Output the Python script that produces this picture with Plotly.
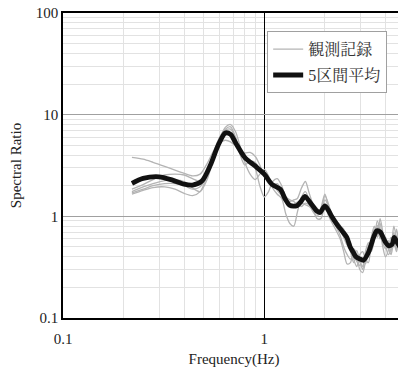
import plotly.graph_objects as go

# Frequency grid for observed records (Hz)
freq_obs = [0.22, 0.25, 0.28, 0.32, 0.36, 0.40, 0.44, 0.48, 0.52, 0.56, 0.60, 0.64, 0.68, 0.72, 0.76,
            0.80, 0.85, 0.90, 0.95, 1.00, 1.05, 1.10, 1.16, 1.22, 1.28, 1.34, 1.40, 1.46, 1.53, 1.60,
            1.67, 1.75, 1.83, 1.91, 2.00, 2.09, 2.18, 2.28, 2.38, 2.48, 2.58, 2.68, 2.78, 2.88, 2.98,
            3.08, 3.18, 3.29, 3.40, 3.52, 3.64, 3.76, 3.88, 4.00, 4.13, 4.26, 4.40, 4.54, 4.68, 4.83, 5.0]

obs1 = [3.8, 3.65, 3.4, 3.1, 2.85, 2.65, 2.5, 2.6, 3.3, 4.4, 5.3, 5.6, 5.4, 4.9, 4.4,
        4.2, 4.25, 3.9, 3.2, 2.5, 2.1, 2.0, 2.1, 1.8, 1.45, 1.25, 1.3, 1.38, 1.35, 1.3,
        1.25, 1.15, 1.05, 1.15, 1.6, 1.3, 0.95, 0.82, 0.75, 0.62, 0.52, 0.48, 0.45, 0.36, 0.33,
        0.38, 0.34, 0.45, 0.62, 0.8, 0.62, 0.75, 0.55, 0.48, 0.58, 0.45, 0.7, 0.48, 0.55, 0.4, 0.45]
obs2 = [1.65, 1.8, 1.92, 1.95, 1.85, 1.68, 1.6, 1.75, 2.5, 4.0, 5.8, 7.5, 8.0, 6.8, 4.8,
        3.4, 2.6, 2.3, 2.6, 2.9, 2.5, 1.9, 1.65, 1.5, 1.05, 0.85, 0.8, 1.1, 1.55, 1.75,
        1.45, 1.15, 0.95, 0.95, 1.25, 1.0, 0.85, 0.72, 0.6, 0.45, 0.34, 0.35, 0.48, 0.42, 0.30,
        0.28, 0.36, 0.52, 0.45, 0.58, 0.9, 0.72, 0.5, 0.4, 0.46, 0.62, 0.55, 0.75, 0.5, 0.38, 0.52]
obs3 = [1.75, 1.95, 2.1, 2.25, 2.3, 2.2, 1.9, 1.75, 2.3, 3.8, 5.6, 7.0, 7.2, 5.8, 4.4,
        3.9, 3.6, 3.0, 2.0, 1.55, 1.75, 2.2, 2.35, 2.0, 1.55, 1.45, 1.4, 1.3, 1.25, 1.35,
        1.3, 1.1, 1.0, 1.2, 1.65, 1.2, 1.0, 0.9, 0.82, 0.72, 0.62, 0.55, 0.38, 0.32, 0.42,
        0.45, 0.38, 0.35, 0.55, 0.75, 0.65, 0.95, 0.7, 0.52, 0.42, 0.48, 0.8, 0.6, 0.45, 0.6, 0.4]
obs4 = [1.85, 2.05, 2.3, 2.55, 2.6, 2.55, 2.35, 2.2, 2.8, 4.3, 6.0, 7.2, 7.6, 6.0, 4.0,
        3.2, 3.5, 3.4, 2.9, 2.7, 2.4, 2.1, 1.8, 1.6, 1.5, 1.35, 1.3, 1.35, 1.45, 1.5,
        1.4, 1.3, 1.2, 1.1, 1.45, 1.25, 1.0, 0.88, 0.8, 0.75, 0.6, 0.45, 0.35, 0.42, 0.36,
        0.32, 0.42, 0.4, 0.5, 0.68, 0.82, 0.6, 0.65, 0.55, 0.48, 0.55, 0.5, 0.65, 0.58, 0.52, 0.35]
obs5 = [1.7, 1.85, 2.0, 2.1, 2.1, 2.0, 1.85, 1.95, 2.6, 3.9, 5.4, 6.3, 6.4, 5.6, 4.6,
        4.0, 3.5, 3.1, 2.8, 2.7, 2.3, 2.0, 1.85, 1.7, 1.5, 1.4, 1.45, 1.5, 1.9, 2.2,
        1.7, 1.3, 1.15, 1.05, 1.3, 1.05, 0.92, 0.78, 0.65, 0.5, 0.42, 0.38, 0.42, 0.46, 0.36,
        0.3, 0.45, 0.55, 0.48, 0.62, 0.75, 0.85, 0.58, 0.62, 0.5, 0.42, 0.55, 0.45, 0.62, 0.5, 0.55]
obs_series = [obs1, obs2, obs3, obs4, obs5]

# 5-section average
freq_avg = [0.22, 0.25, 0.30, 0.35, 0.40, 0.44, 0.49, 0.54, 0.59, 0.64, 0.68, 0.72, 0.80, 0.90, 1.00,
            1.09, 1.20, 1.27, 1.34, 1.45, 1.53, 1.59, 1.69, 1.82, 1.89, 2.0, 2.08, 2.16, 2.29, 2.43,
            2.57, 2.67, 2.77, 2.85, 2.99, 3.11, 3.29, 3.49, 3.62, 3.77, 3.99, 4.14, 4.31, 4.42, 4.56,
            4.73, 5.0]
avg = [2.11, 2.36, 2.45, 2.27, 2.07, 2.03, 2.23, 3.2, 5.0, 6.6, 6.4, 5.3, 3.79, 3.13, 2.6,
       2.07, 1.85, 1.48, 1.28, 1.27, 1.42, 1.57, 1.37, 1.13, 1.09, 1.27, 1.15, 1.0, 0.84, 0.72,
       0.62, 0.50, 0.44, 0.40, 0.38, 0.37, 0.44, 0.62, 0.72, 0.70, 0.56, 0.515, 0.53, 0.62, 0.56,
       0.50, 0.48]

name_obs = "観測記録"
name_avg = "5区間平均"

x_tickvals = [0.1, 1, 5]
x_ticktext = ["0.1", "1", "5"]
y_tickvals = [0.1, 1, 10, 100]
y_ticktext = ["0.1", "1", "10", "100"]

serif = "Liberation Serif, Times New Roman, serif"
legend_font = "Liberation Serif, Noto Serif CJK JP, Noto Sans CJK JP, serif"

fig = go.Figure()
for i, s in enumerate(obs_series):
    fig.add_trace(go.Scatter(
        x=freq_obs, y=s, mode="lines", name=name_obs,
        line=dict(color="#b4b4b4", width=1.3, shape="spline", smoothing=0.8),
        showlegend=(i == 0), legendgroup="obs", hoverinfo="skip"))
fig.add_trace(go.Scatter(
    x=freq_avg, y=avg, mode="lines", name=name_avg,
    line=dict(color="#111111", width=4.8, shape="spline", smoothing=0.8)))

# page body has an 8px default margin; plot area lands at x 63..405, y 13..318 in the window
fig.update_layout(
    width=406, height=372,
    margin=dict(l=55, r=9, t=5, b=62, autoexpand=False),
    paper_bgcolor="white", plot_bgcolor="white",
    font=dict(family=serif, size=15, color="#222"),
    showlegend=True,
    legend=dict(x=0.597, y=0.94, xanchor="left", yanchor="top",
                bgcolor="white", bordercolor="#a0a0a0", borderwidth=1,
                font=dict(family=legend_font, size=16, color="#333"),
                tracegroupgap=2, itemwidth=30),
    xaxis=dict(type="log", range=[-1, 0.69897], automargin=False,
               tickvals=x_tickvals, ticktext=x_ticktext, ticks="",
               ticklabelstandoff=6, ticklabeloverflow="allow",
               showgrid=True, gridcolor="#000000", gridwidth=1,
               minor=dict(showgrid=True, gridcolor="#e2e2e2", gridwidth=1,
                          tickvals=[0.2, 0.3, 0.4, 0.5, 0.6, 0.7, 0.8, 0.9, 2, 3, 4]),
               showline=True, linecolor="black", linewidth=1.5, mirror=True,
               zeroline=False,
               title=dict(text="Frequency(Hz)", font=dict(family=serif, size=15), standoff=8),
               tickfont=dict(family=serif, size=15)),
    yaxis=dict(type="log", range=[-1, 2], automargin=False,
               tickvals=y_tickvals, ticktext=y_ticktext, ticks="",
               ticklabeloverflow="allow",
               showgrid=True, gridcolor="#a0a0a0", gridwidth=1,
               minor=dict(showgrid=True, gridcolor="#e2e2e2", gridwidth=1,
                          tickvals=[0.2, 0.3, 0.4, 0.5, 0.6, 0.7, 0.8, 0.9,
                                    2, 3, 4, 5, 6, 7, 8, 9,
                                    20, 30, 40, 50, 60, 70, 80, 90]),
               showline=True, linecolor="black", linewidth=1.5, mirror=True,
               zeroline=False,
               title=dict(text="Spectral Ratio", font=dict(family=serif, size=15), standoff=12),
               tickfont=dict(family=serif, size=15)),
)

fig.write_html("out.html")
